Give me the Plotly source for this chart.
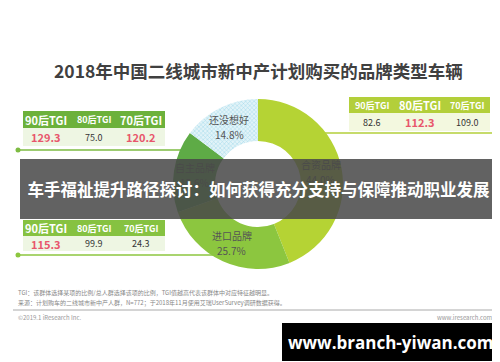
import math
import plotly.graph_objects as go

W, H = 500, 362

# ---- data ----
brands = ["合资品牌", "进口品牌", "自主品牌", "还没想好"]
shares = [44.0, 25.7, 15.6, 14.8]
brand_colors = ["#b5d334", "#8cc63f", "#5eab46", "#e2f3f8"]

tgi_headers = ["90后TGI", "80后TGI", "70后TGI"]
tgi_zizhu = [129.3, 75.0, 120.2]     # 自主品牌
tgi_hezi = [82.6, 112.3, 109.0]      # 合资品牌
tgi_jinkou = [115.3, 99.9, 24.3]     # 进口品牌

title = "2018年中国二线城市新中产计划购买的品牌类型车辆"
banner = "车手福祉提升路径探讨：如何获得充分支持与保障推动职业发展"
note1 = "TGI：该群体选择某项的比例/总人群选择该项的比例，TGI值越高代表该群体中对应特征越明显。"
note2 = "来源：计划购车的二线城市新中产人群，N=772；于2018年11月使用艾瑞UserSurvey调研数据获得。"
copyright_txt = "©2019.1 iResearch Inc."
site_txt = "www.iresearch.com.cn"
watermark = "www.branch-yiwan.com"

FONT = "Noto Sans CJK SC"

# donut geometry (pixels)
cx, cy, R, r_in = 250, 176, 85, 43

fig = go.Figure()

fig.add_trace(go.Pie(
    labels=brands, values=shares, sort=False, direction="clockwise", rotation=0,
    hole=r_in / R, textinfo="none", hoverinfo="label+percent",
    marker=dict(colors=brand_colors, line=dict(width=0),
                pattern=dict(shape=["", "", "", "x"], fgcolor="#9fd9ea",
                             bgcolor=brand_colors,
                             size=3, solidity=0.3)),
    domain=dict(x=[(cx - R) / W, (cx + R) / W], y=[(H - cy - R) / H, (H - cy + R) / H]),
    showlegend=False,
))

shapes = []
ann = []

def text(x, y, s, size, color="#444", bold=False, xanchor="center", family=FONT):
    ann.append(dict(x=x, y=y, xref="x", yref="y", text=(f"<b>{s}</b>" if bold else s),
                    showarrow=False, xanchor=xanchor, yanchor="middle",
                    font=dict(size=size, color=color, family=family)))

# donut labels from data
total = sum(shares)
acc = 0
r_mid = (R + r_in) / 2
for b, v in zip(brands, shares):
    mid = (acc + v / 2) / total * 2 * math.pi
    acc += v
    lx = cx + r_mid * math.sin(mid)
    ly = cy - r_mid * math.cos(mid)
    text(lx, ly - 7, b, 10, "#555")
    text(lx, ly + 8, f"{v:.1f}%", 10, "#555")

# tables
def table(x0, x1, y0, ym, y1, hdr_color, row_color, cols, vals, big, line_y, line_x0, line_x1, dot_x, line_color):
    shapes.append(dict(type="line", xref="x", yref="y", x0=line_x0, x1=line_x1, y0=line_y, y1=line_y,
                       line=dict(color=line_color, width=1.5), layer="below"))
    shapes.append(dict(type="circle", xref="x", yref="y", x0=dot_x - 2.5, x1=dot_x + 2.5,
                       y0=line_y - 2.5, y1=line_y + 2.5, fillcolor=line_color, line=dict(width=0)))
    shapes.append(dict(type="rect", xref="x", yref="y", x0=x0, x1=x1, y0=y0, y1=ym,
                       fillcolor=hdr_color, line=dict(width=0)))
    shapes.append(dict(type="rect", xref="x", yref="y", x0=x0, x1=x1, y0=ym, y1=y1,
                       fillcolor=row_color, line=dict(width=0)))
    for i, (hname, v) in enumerate(zip(tgi_headers, vals)):
        x = cols[i]
        if i in big:
            text(x, (y0 + ym) / 2, hname, 11, "white", bold=True)
            text(x, (ym + y1) / 2, f"{v:.1f}", 11, "#e8566c", bold=True)
        else:
            text(x, (y0 + ym) / 2, hname, 9, "white", bold=True)
            text(x, (ym + y1) / 2, f"{v:.1f}", 9, "#333")

table(15, 157, 103, 120, 138, "#6cb13b", "#eef6e3", [38, 86, 133], tgi_zizhu, [0, 2],
      142, 10, 200, 10, "#7dbb42")
table(341, 482, 89, 105, 123, "#b3cf3a", "#f3f8df", [364, 412, 459], tgi_hezi, [1],
      125, 300, 489, 489, "#b3cf3a")
table(15, 157, 212, 228, 243, "#86c241", "#eef6e3", [38, 86, 133], tgi_jinkou, [0],
      247, 10, 220, 10, "#8cc63f")

# title
text(250, 62, title, 17.5, "#404040", bold=True)

# banner (annotation drawn over the donut labels)
ann.append(dict(x=250.5, y=180.5, xref="x", yref="y", text=f"<b>{banner}</b>", showarrow=False,
                xanchor="center", yanchor="middle", width=477, height=60, borderpad=0,
                borderwidth=0, bgcolor="rgba(72,72,72,0.86)", align="center",
                font=dict(size=16.5, color="white", family=FONT)))

# footnotes
text(8, 284, note1, 6, "#888", xanchor="left")
text(8, 294, note2, 6, "#888", xanchor="left")
shapes.append(dict(type="line", xref="x", yref="y", x0=5, x1=498, y0=302, y1=302,
                   line=dict(color="#aaa", width=1)))
text(8, 309, copyright_txt, 6, "#999", xanchor="left")
ann.append(dict(x=495, y=309, xref="x", yref="y", text=site_txt, showarrow=False,
                xanchor="right", yanchor="middle", font=dict(size=6, color="#999", family=FONT)))

# watermark box
shapes.append(dict(type="rect", xref="x", yref="y", x0=274, x1=491, y0=315, y1=353,
                   fillcolor="black", line=dict(width=0)))
text(382, 334, watermark, 17, "white", bold=True, family="Open Sans")

fig.update_layout(
    width=W, height=H, margin=dict(l=0, r=0, t=0, b=0),
    paper_bgcolor="white", plot_bgcolor="rgba(0,0,0,0)",
    xaxis=dict(range=[0, W], visible=False, fixedrange=True),
    yaxis=dict(range=[H, 0], visible=False, fixedrange=True),
    shapes=shapes, annotations=ann,
)

fig.write_html("out.html")
